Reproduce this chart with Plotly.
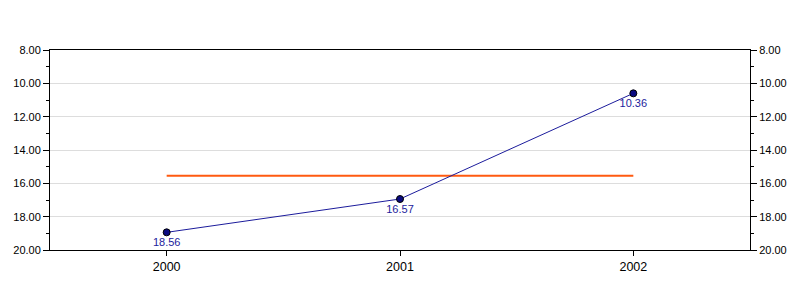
import plotly.graph_objects as go

categories = ["2000", "2001", "2002"]
values = [18.94, 16.94, 10.6]
value_labels = ["18.56", "16.57", "10.36"]
average = [15.54, 15.54, 15.54]
y_ticks = [8, 10, 12, 14, 16, 18, 20]

font = dict(family="Liberation Sans, Arial, sans-serif", size=11, color="black")
xfont = dict(family="Liberation Sans, Arial, sans-serif", size=12.5, color="black")

fig = go.Figure()
fig.add_trace(go.Scatter(
    x=categories, y=average, mode="lines",
    line=dict(color="#FF5A10", width=2), hoverinfo="skip", showlegend=False))
fig.add_trace(go.Scatter(
    x=categories, y=values, mode="lines+markers+text",
    text=value_labels, textposition="bottom center",
    textfont=dict(family="Liberation Sans, Arial, sans-serif", size=11, color="#1c1c9c"),
    line=dict(color="#1c1c9c", width=1),
    marker=dict(color="#0a0a80", size=7, line=dict(color="black", width=1)),
    showlegend=False))
fig.add_trace(go.Scatter(x=categories, y=values, yaxis="y2", mode="markers",
                         marker=dict(opacity=0), hoverinfo="skip", showlegend=False))

yax = dict(range=[20, 8], tickvals=y_ticks, tickformat=".2f", ticks="outside",
           ticklen=6, tickcolor="black", showline=True, linecolor="black", linewidth=1,
           showgrid=True, gridcolor="#dddddd", gridwidth=1, zeroline=False,
           minor=dict(dtick=1, tick0=8, ticklen=3, ticks="outside", tickcolor="black", showgrid=False),
           tickfont=font)

fig.update_layout(
    width=800, height=300,
    margin=dict(l=50, r=50, t=50, b=50),
    paper_bgcolor="white", plot_bgcolor="white",
    font=font,
    xaxis=dict(type="category", range=[-0.5, 2.5], ticks="outside", ticklen=5,
               tickcolor="black", showline=True, linecolor="black", mirror=True,
               showgrid=False, tickfont=xfont),
    yaxis=yax,
    yaxis2=dict(yax, overlaying="y", side="right", showgrid=False),
)
fig.write_html("out.html")
